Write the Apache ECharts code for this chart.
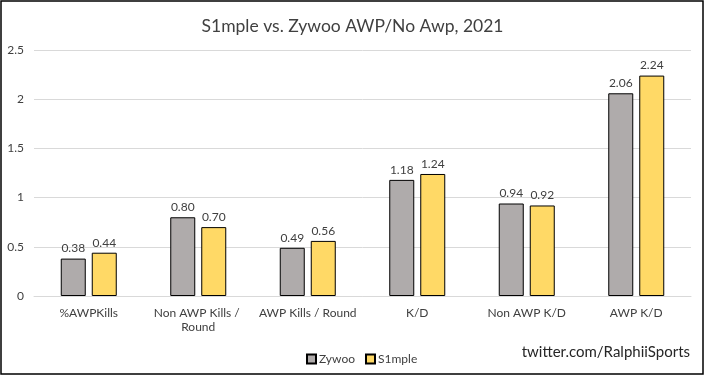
<!DOCTYPE html>
<html lang="en">
<head>
    <meta charset="UTF-8">
    <title>S1mple vs. Zywoo</title>
    <style>
        html, body { margin: 0; padding: 0; background: #fff; }
    </style>
</head>
<body>
    <div id="main" style="height:376px; width:705px;"></div>
    <script src="https://cdn.jsdelivr.net/npm/echarts@6/dist/echarts.min.js"></script>
    <script>
        var categories = ['%AWPKills', 'Non AWP Kills / Round', 'AWP Kills / Round', 'K/D', 'Non AWP K/D', 'AWP K/D'];
        var zywoo = [0.38, 0.80, 0.49, 1.18, 0.94, 2.06];
        var s1mple = [0.44, 0.70, 0.56, 1.24, 0.92, 2.24];
        var seriesNames = ['Zywoo', 'S1mple'];

        var font = 'Lato';
        var myChart = echarts.init(document.getElementById('main'));
        var option = {
            animation: false,
            textStyle: { fontFamily: font },
            title: {
                text: 'S1mple vs. Zywoo AWP/No Awp, 2021',
                left: 'center',
                top: 12,
                textStyle: { fontFamily: font, fontSize: 17.5, fontWeight: 'normal', color: '#404040' }
            },
            legend: {
                data: seriesNames,
                left: 301,
                top: 348,
                itemWidth: 9,
                itemHeight: 9,
                itemGap: 10,
                icon: 'rect',
                selectedMode: false,
                textStyle: { fontFamily: font, fontSize: 12, color: '#404040', padding: [0, 0, 0, -2] }
            },
            graphic: [
                {
                    type: 'rect',
                    shape: { x: 1, y: 1, width: 702, height: 373 },
                    style: { fill: 'none', stroke: '#000', lineWidth: 1.5 },
                    silent: true
                },
                {
                    type: 'text',
                    right: 15,
                    top: 345,
                    style: { text: 'twitter.com/RalphiiSports', fontFamily: font, fontSize: 15, fill: '#262626' }
                }
            ],
            grid: { left: 34, right: 14, top: 50, bottom: 80 },
            xAxis: {
                type: 'category',
                data: categories,
                axisLine: { lineStyle: { color: '#d9d9d9' } },
                axisTick: { show: false },
                axisLabel: {
                    color: '#404040',
                    fontSize: 12,
                    margin: 10,
                    lineHeight: 14,
                    width: 100,
                    overflow: 'break',
                    interval: 0
                }
            },
            yAxis: {
                type: 'value',
                min: 0,
                max: 2.5,
                interval: 0.5,
                axisLine: { show: false },
                axisTick: { show: false },
                splitLine: { lineStyle: { color: '#d9d9d9' } },
                axisLabel: { color: '#404040', fontSize: 12, margin: 10 }
            },
            series: [
                {
                    name: seriesNames[0],
                    type: 'bar',
                    data: zywoo,
                    barWidth: 25,
                    barGap: '24%',
                    itemStyle: { color: '#afabab', borderColor: '#000', borderWidth: 1 },
                    label: {
                        show: true, position: 'top', distance: 4,
                        color: '#404040', fontSize: 12,
                        formatter: function (p) { return p.value.toFixed(2); }
                    }
                },
                {
                    name: seriesNames[1],
                    type: 'bar',
                    data: s1mple,
                    barWidth: 25,
                    barGap: '24%',
                    itemStyle: { color: '#ffd966', borderColor: '#000', borderWidth: 1 },
                    label: {
                        show: true, position: 'top', distance: 4,
                        color: '#404040', fontSize: 12,
                        formatter: function (p) { return p.value.toFixed(2); }
                    }
                }
            ]
        };
        myChart.setOption(option);
    </script>
</body>
</html>
